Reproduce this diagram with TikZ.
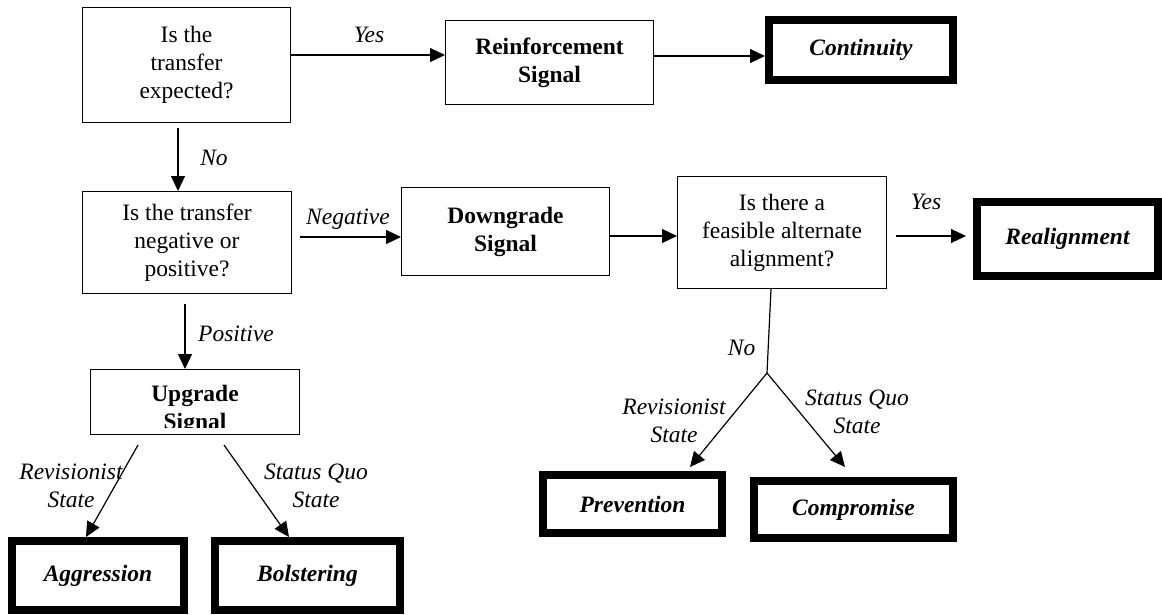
\documentclass[tikz,border=0pt]{standalone}
\usepackage{fontspec}
\setmainfont{Liberation Serif}
\usetikzlibrary{arrows.meta,calc}
\begin{document}
\begin{tikzpicture}[x=1pt,y=-1pt,
  txt/.style={font=\fontsize{23.5}{28}\selectfont, align=center, inner sep=0pt},
  qbox/.style={txt, draw, line width=1.4pt},
  sigbox/.style={qbox, font=\fontsize{23.5}{28}\selectfont\bfseries},
  endbox/.style={txt, draw, line width=8pt, font=\fontsize{23.5}{28}\selectfont\bfseries\itshape},
  lbl/.style={txt, font=\fontsize{23.5}{28}\selectfont\itshape},
  conn/.style={line width=1.2pt},
  arr/.style={conn, -{Triangle[length=15pt,width=14pt]}}]
\useasboundingbox (0,0) rectangle (1162,614);

% question boxes
\node[qbox, minimum width=207.6pt, minimum height=114.6pt] (q1) at (186.5,65) {Is the\\transfer\\expected?};
\node[qbox, minimum width=208.6pt, minimum height=101.6pt] (q2) at (187,242.5) {Is the transfer\\negative or\\positive?};
\node[qbox, minimum width=208.6pt, minimum height=111.6pt] (q3) at (782,232.5) {Is there a\\feasible alternate\\alignment?};

% signal boxes
\node[sigbox, minimum width=207.6pt, minimum height=83.6pt] (reinf) at (549.5,62.5) {Reinforcement\\Signal};
\node[sigbox, minimum width=207.6pt, minimum height=87.6pt] (down) at (505.5,231.5) {Downgrade\\Signal};
\begin{scope}
  \clip (91,370) rectangle (299,427);
  \node[txt, font=\fontsize{23.5}{28}\selectfont\bfseries] (upgtext) at (195,410) {Upgrade\\Signal};
\end{scope}
\node[qbox, minimum width=208.6pt, minimum height=64.6pt] (upg) at (195,402) {};

% outcome boxes
\node[endbox, minimum width=184pt, minimum height=60pt] (cont) at (861,50) {Continuity};
\node[endbox, minimum width=181pt, minimum height=74pt] (real) at (1067.5,239) {Realignment};
\node[endbox, minimum width=172pt, minimum height=69pt] (aggr) at (98,575.5) {Aggression};
\node[endbox, minimum width=185pt, minimum height=69pt] (bols) at (307.5,575.5) {Bolstering};
\node[endbox, minimum width=179pt, minimum height=58pt] (prev) at (632.5,504) {Prevention};
\node[endbox, minimum width=199pt, minimum height=57pt] (comp) at (853.5,509.5) {Compromise};

% branching point
\coordinate (apex) at (767,373);

% connectors
\draw[arr] (q1.east |- 0,55) -- (reinf.west |- 0,55);
\draw[arr] (reinf.east |- 0,56) -- (cont.west |- 0,56);
\draw[arr] ($(q1.south -| 178,0)+(0,5)$) -- (q2.north -| 178,0);
\draw[arr] ($(q2.east |- 0,237)+(8,0)$) -- (down.west |- 0,237);
\draw[arr] (down.east |- 0,236) -- (q3.west |- 0,236);
\draw[arr] ($(q3.east |- 0,236)+(9,0)$) -- ($(real.west |- 0,236)+(-7,0)$);
\draw[conn] (q3.south -| 771,0) -- (apex);
\draw[arr] (apex) -- ($(prev.north -| 690,0)+(0,-4)$);
\draw[arr] (apex) -- ($(comp.north -| 845,0)+(0,-10)$);
\draw[arr] ($(q2.south -| 185,0)+(0,10)$) -- (upg.north -| 185,0);
\draw[arr] ($(upg.south -| 138,0)+(0,10)$) -- (aggr.north -| 86,0);
\draw[arr] ($(upg.south -| 224,0)+(0,10)$) -- (bols.north -| 289,0);

% labels
\node[lbl] (lyes1) at (369,35) {Yes};
\node[lbl] (lno1) at (214,158) {No};
\node[lbl] (lneg) at (348,219) {Negative};
\node[lbl] (lpos) at (236,334) {Positive};
\node[lbl] (lyes2) at (926,202) {Yes};
\node[lbl] (lno2) at (741.6,348) {No};
\node[lbl] (lrev2) at (674,421) {Revisionist\\State};
\node[lbl] (lsq2) at (857,411.5) {Status Quo\\State};
\node[lbl] (lrev1) at (71,486) {Revisionist\\State};
\node[lbl] (lsq1) at (316,486) {Status Quo\\State};
\end{tikzpicture}
\end{document}
